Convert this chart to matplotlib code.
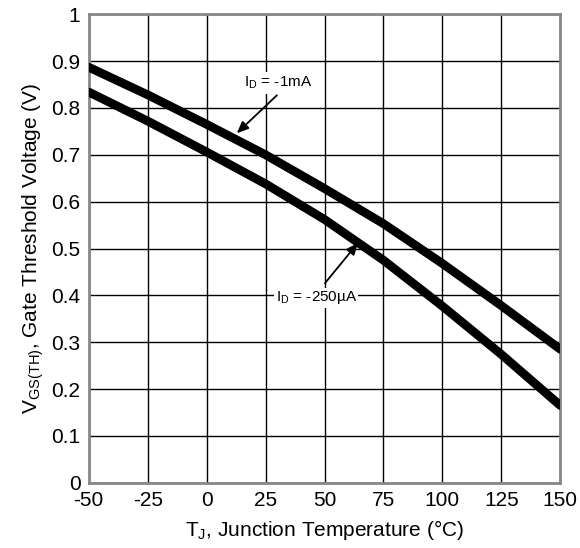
import matplotlib
matplotlib.use("Agg")
import matplotlib.pyplot as plt

plt.rcParams['font.family'] = ['Liberation Sans', 'DejaVu Sans']
plt.rcParams['mathtext.fontset'] = 'custom'
plt.rcParams['mathtext.rm'] = 'Liberation Sans'

# temperatura de union (C)
temp = [-50, -25, 0, 25, 50, 75, 100, 125, 150]
# VGS(TH) para ID = -1mA
vth_1mA = [0.887, 0.828, 0.765, 0.700, 0.628, 0.553, 0.468, 0.378, 0.285]
# VGS(TH) para ID = -250uA
vth_250uA = [0.834, 0.772, 0.706, 0.638, 0.562, 0.475, 0.377, 0.274, 0.165]

xticks = [-50, -25, 0, 25, 50, 75, 100, 125, 150]
yticks = [0, 0.1, 0.2, 0.3, 0.4, 0.5, 0.6, 0.7, 0.8, 0.9, 1]
ylabels = ["0", "0.1", "0.2", "0.3", "0.4", "0.5", "0.6", "0.7", "0.8", "0.9", "1"]

fig = plt.figure(figsize=(5.8, 5.48), dpi=100)
ax = fig.add_axes([0.153, 0.119, 0.813, 0.855])

ax.plot(temp, vth_1mA, color='black', lw=6.3, solid_capstyle='round', zorder=3)
ax.plot(temp, vth_250uA, color='black', lw=6.3, solid_capstyle='round', zorder=3)

ax.set_xlim(-50, 150)
ax.set_ylim(0, 1)
ax.set_xticks(xticks)
ax.set_xticklabels([str(t) for t in xticks])
ax.set_yticks(yticks)
ax.set_yticklabels(ylabels)
ax.tick_params(length=0, labelsize=15, pad=6)
ax.grid(True, color='black', lw=1)
ax.set_axisbelow(True)
for s in ax.spines.values():
    s.set_color('#888888')
    s.set_linewidth(2)

ax.set_xlabel(r'T$_\mathregular{J}$, Junction Temperature (°C)', fontsize=15, labelpad=6)
ax.set_ylabel(r'V$_\mathregular{GS(TH)}$, Gate Threshold Voltage (V)', fontsize=15, labelpad=4)

# etiquetas de las curvas
flecha = dict(arrowstyle='-|>,head_length=0.7,head_width=0.3', color='black', lw=1.3,
              shrinkA=0, shrinkB=0)
ax.text(30.5, 0.853, r'I$_\mathregular{D}$ = -1mA', fontsize=11, ha='center', va='center',
        bbox=dict(boxstyle='square,pad=0.15', fc='white', ec='none'), zorder=4)
ax.annotate('', xy=(12.8, 0.746), xytext=(29.8, 0.827), arrowprops=flecha, zorder=4)
ax.text(46.5, 0.395, r'I$_\mathregular{D}$ = -250µA', fontsize=11, ha='center', va='center',
        bbox=dict(boxstyle='square,pad=0.1', fc='white', ec='none'), zorder=4)
ax.annotate('', xy=(64.2, 0.512), xytext=(50.2, 0.426), arrowprops=flecha, zorder=4)

fig.savefig('out.png', dpi=100)
